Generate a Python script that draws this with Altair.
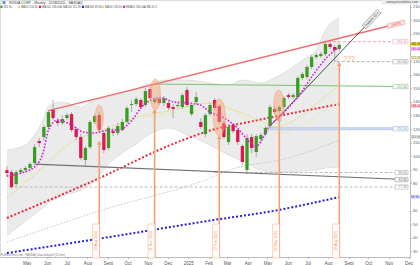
import altair as alt
import numpy as np
import pandas as pd

START = pd.Timestamp("2024-04-01")
DAY0, DAY1 = -2.9, 603.6
P0, P1 = 25.8, 215.0

# ---------------- weekly candles (USD) ----------------
opens = [89.8, 88.3, 79.5, 88.3, 89.8, 91.3, 95.0, 111.2, 114.1, 121.5,
         134.0, 125.9, 124.4, 128.1, 131.0, 120.0, 114.1, 97.2, 106.7, 125.2,
         130.3, 117.1, 106.0, 118.5, 117.1, 119.3, 125.2, 137.7, 138.4, 141.4,
         137.7, 149.5, 139.9, 142.1, 139.2, 139.2, 136.2, 136.9, 136.2, 148.7,
         131.0, 139.9, 125.2, 116.3, 131.0, 141.4, 136.9, 124.4, 110.4, 123.0,
         119.3, 107.5, 89.8, 114.1, 103.1, 112.6, 116.3, 122.2, 134.7, 133.3,
         136.2, 145.0, 143.6, 143.6, 157.6, 158.3, 165.7, 173.0, 173.8, 175.2,
         182.6, 180.4, 178.9]
closes = [87.6, 77.3, 88.3, 89.8, 91.3, 94.2, 106.7, 109.7, 121.5, 132.5,
          128.1, 124.4, 127.4, 130.3, 119.3, 114.1, 98.6, 106.0, 125.2, 129.6,
          119.3, 104.5, 120.7, 117.1, 122.2, 125.2, 135.5, 138.4, 142.1, 136.2,
          148.0, 142.8, 142.1, 139.2, 142.8, 135.5, 134.7, 137.7, 145.0, 137.7,
          137.7, 143.6, 121.5, 130.3, 137.7, 135.5, 125.2, 114.1, 121.5, 118.5,
          110.4, 95.7, 113.4, 106.0, 114.8, 115.6, 120.7, 136.2, 132.5, 136.2,
          142.8, 143.6, 145.0, 157.6, 160.5, 165.7, 173.0, 174.5, 175.2, 182.6,
          180.4, 178.2, 181.9]
highs = [92.8, 89.8, 89.8, 91.3, 92.8, 95.7, 108.9, 113.4, 123.0, 134.0,
         141.4, 128.1, 130.3, 131.8, 132.5, 121.5, 116.3, 107.5, 126.6, 131.0,
         132.5, 118.5, 122.2, 120.7, 124.4, 127.4, 136.9, 141.4, 143.6, 142.8,
         150.2, 150.9, 143.6, 143.6, 144.3, 140.6, 138.4, 139.2, 146.5, 150.9,
         139.2, 147.3, 128.1, 131.8, 139.2, 142.8, 138.4, 125.9, 123.7, 124.4,
         120.7, 108.9, 116.3, 116.3, 116.3, 117.1, 122.2, 137.7, 136.9, 137.7,
         144.3, 146.5, 146.5, 159.0, 162.0, 167.1, 174.5, 176.0, 176.7, 184.8,
         184.1, 181.9, 183.3]
lows = [84.7, 75.8, 78.0, 86.9, 88.3, 89.8, 93.5, 106.7, 111.2, 120.0,
        126.6, 122.2, 123.0, 126.6, 117.8, 111.9, 97.2, 92.0, 105.3, 123.7,
        117.8, 102.3, 104.5, 114.8, 115.6, 118.5, 123.7, 132.5, 136.9, 134.7,
        136.2, 141.4, 138.4, 137.7, 136.9, 134.0, 128.1, 135.5, 134.7, 136.2,
        129.6, 138.4, 120.0, 114.1, 129.6, 134.0, 123.7, 112.6, 108.2, 117.1,
        108.2, 93.5, 86.9, 102.3, 99.4, 110.4, 114.8, 120.7, 131.0, 131.8,
        134.7, 142.1, 142.1, 142.1, 156.1, 156.8, 164.2, 171.6, 172.3, 173.8,
        178.9, 169.3, 177.4]

# ---------------- indicators (week index, value) ----------------
ema_w = [0, 3, 6, 8, 9, 11, 14, 16.5, 18.6, 22.2, 24.3, 27.1, 29.2, 31.3, 33.4, 36.2,
         39.1, 41.9, 44, 46.7, 49.7, 51.8, 53.9, 55.2, 56.7, 58.8, 60.9, 63, 66.6, 69.4, 71.9]
ema_v = [85.4, 87.6, 92.0, 104.5, 119.3, 126.6, 123.0, 117.8, 117.1, 119.3, 119.3, 126.6,
         136.2, 141.4, 142.8, 139.9, 139.2, 137.7, 132.5, 128.8, 121.5, 113.4, 106.7, 111.9,
         121.5, 128.1, 135.5, 143.6, 161.2, 173.0, 180.4]
ya_w = [0, 5.9, 13.75, 20.7, 27.7, 36.2, 44, 50.3, 54.6, 58.1, 63, 67.2, 71.5]
ya_v = [69.2, 86.1, 109.7, 119.3, 128.1, 134.0, 139.2, 132.5, 126.6, 121.5, 128.1, 139.2, 150.9]
yb_w = [29.2, 36.2, 44, 46.7, 52.4, 58.8, 63, 67.2, 71.5]
yb_v = [128.1, 131.8, 135.5, 136.2, 126.6, 117.1, 120.7, 130.3, 139.2]
red_w = [0, 18.6, 38.1, 44, 52.4, 72.1]
red_v = [54.5, 81.7, 111.9, 118.9, 125.2, 138.4]
blue_w = [0, 20.7, 44, 58.8, 71.9]
blue_v = [28.7, 39.7, 52.6, 60.4, 69.9]
gray_w = [0, 20.7, 44, 48.2, 60.9, 72.1]
gray_v = [36.8, 60.4, 83.9, 89.8, 98.6, 111.9]
bb_w = [0, 4, 6, 8, 9, 12, 16, 19, 22, 25, 28, 31, 35, 39, 44, 48, 51, 55, 58, 61, 64, 67, 69, 72]
bb_up = [104.5, 108.2, 115.6, 128.1, 136.9, 139.9, 136.2, 141.4, 143.6, 146.5, 149.5, 153.9,
         156.1, 156.1, 153.9, 152.4, 156.1, 153.9, 157.6, 163.5, 170.8, 178.2, 192.9, 201.7]
bb_lo = [41.2, 52.3, 57.4, 62.6, 65.5, 70.7, 75.1, 81.7, 94.2, 102.3, 109.0, 116.3,
         120.7, 115.6, 108.2, 100.9, 96.4, 89.8, 88.3, 88.3, 89.1, 89.8, 91.3, 92.0]

# ---------------- drawn objects ----------------
res_dates, res_vals = ["2024-06-03", "2025-11-25"], [133.6, 198.8]
sup_dates, sup_vals = ["2024-05-14", "2025-11-25"], [94.2, 82.8]
up_dates, up_vals = ["2025-05-05", "2025-10-17"], [122.2, 206.2]
green_dates, green_vals = ["2024-11-10", "2025-11-25"], [153.1, 151.3]
pink_lvl, pink_from = 184.3, "2025-07-24"
g1_lvl, g1_from = 169.6, "2025-08-14"
g2_lvl, g2_from = 88.0, "2025-02-10"
g3_lvl, g3_from = 77.3, "2024-04-05"
blue_top, blue_bot, blue_from = 121.1, 119.3, "2025-04-28"
END_DATE = "2025-11-25"

vl_dates = ["2024-08-19", "2024-11-11", "2025-02-17", "2025-05-19", "2025-08-18"]
vl_tips = [110.7, 134.0, 114.8, 128.1, 168.6]
vl_text = ["19 Aug 2024", "11 Nov 2024", "17 Feb 2025", "19 May 2025", "18 Aug 2025"]
el_dates = ["2024-08-19", "2024-11-12", "2025-02-17", "2025-05-18"]
el_vals = [128.5, 145.4, 128.5, 137.7]
el_h = [25, 31, 37, 30]
q_date, q_val, q_text = "2025-08-24", 171.6, "???"

months = pd.date_range("2024-05-01", "2025-12-01", freq="MS")
mnames = ["Jan", "Feb", "Mar", "Apr", "May", "Jun", "Jul", "Aug", "Sept", "Oct", "Nov", "Dec"]
price_ticks = [30, 40, 50, 60, 80, 90, 100, 110, 120, 130, 140, 150, 160, 170, 190, 200, 210]


def dd(s):
    return (pd.Timestamp(s) - START).days


mvals = [int((m - START).days) for m in months]
mlabs = [str(m.year) if m.month == 1 else mnames[m.month - 1] for m in months]

xaxis = alt.Axis(title=None, values=mvals,
                 labelExpr=f"{mlabs}[indexof({mvals}, datum.value)]",
                 labelFontSize=4.5, labelColor="#555", tickSize=1.5, tickColor="#bbb",
                 domainColor="#bbb", grid=False, labelPadding=2, labelOverlap=False,
                 labelFlush=False, labelFont="Liberation Sans")
yaxis = alt.Axis(title=None, orient="right", values=price_ticks,
                 labelFontSize=4, labelColor="#555", tickSize=1.5, tickColor="#bbb",
                 domainColor="#bbb", grid=False, labelPadding=1, labelOverlap=False,
                 labelFont="Liberation Sans")


def X(f="d"):
    return alt.X(f"{f}:Q", scale=alt.Scale(domain=[DAY0, DAY1], nice=False, zero=False), axis=xaxis)


def Y(f="p"):
    return alt.Y(f"{f}:Q", scale=alt.Scale(domain=[P0, P1], nice=False, zero=False), axis=yaxis)


def series(w, v):
    return pd.DataFrame({"d": [x * 7 for x in w], "p": v})


def seg(dates, vals):
    return pd.DataFrame({"d": [dd(s) for s in dates], "p": vals})


GREEN, RED, ORANGE = "#3a9d23", "#e0164f", "#f5a06e"

cdf = pd.DataFrame({"d": [i * 7 for i in range(len(opens))], "O": opens, "C": closes,
                    "H": highs, "L": lows})
cdf["col"] = np.where(cdf["C"] >= cdf["O"], GREEN, RED)

layers = []
# Bollinger band
bdf = pd.DataFrame({"d": [w * 7 for w in bb_w], "up": bb_up, "lo": bb_lo})
layers.append(alt.Chart(bdf).mark_area(color="#e4e4e4", opacity=0.75, interpolate="monotone")
              .encode(x=X(), y=Y("lo"), y2=alt.Y2("up")))
for f in ["up", "lo"]:
    layers.append(alt.Chart(bdf).mark_line(color="#d2d2d2", strokeWidth=0.6, interpolate="monotone")
                  .encode(x=X(), y=Y(f)))

# blue band
bl = pd.DataFrame({"d": [dd(blue_from)], "d2": [dd(END_DATE)], "p": [blue_top], "p2": [blue_bot]})
layers.append(alt.Chart(bl).mark_rect(color="#cbd9f2", stroke="#9fb7e6", strokeWidth=0.4)
              .encode(x=X(), x2=alt.X2("d2"), y=Y(), y2=alt.Y2("p2")))

# horizontal dashed levels
for lvl, frm, col in [(pink_lvl, pink_from, "#f08a9e"), (g1_lvl, g1_from, "#9a9a9a"),
                      (g2_lvl, g2_from, "#a8a8a8"), (g3_lvl, g3_from, "#a8a8a8")]:
    layers.append(alt.Chart(seg([frm, END_DATE], [lvl, lvl]))
                  .mark_line(color=col, strokeWidth=0.8, strokeDash=[3, 2])
                  .encode(x=X(), y=Y()))

# green horizontal
layers.append(alt.Chart(seg(green_dates, green_vals)).mark_line(color="#7cc47a", strokeWidth=1)
              .encode(x=X(), y=Y()))

# moving averages
layers.append(alt.Chart(series(gray_w, gray_v))
              .mark_line(color="#c4c4c4", strokeWidth=1, strokeDash=[1.5, 1.5], interpolate="monotone")
              .encode(x=X(), y=Y()))
layers.append(alt.Chart(series(blue_w, blue_v))
              .mark_line(color="#2323dc", strokeWidth=2, strokeDash=[2, 2], interpolate="monotone")
              .encode(x=X(), y=Y()))
layers.append(alt.Chart(series(red_w, red_v))
              .mark_line(color="#e8283c", strokeWidth=2, strokeDash=[2, 2], interpolate="monotone")
              .encode(x=X(), y=Y()))
layers.append(alt.Chart(series(ya_w, ya_v))
              .mark_line(color="#e3d65a", strokeWidth=1, strokeDash=[1.5, 1.5], interpolate="monotone")
              .encode(x=X(), y=Y()))
layers.append(alt.Chart(series(yb_w, yb_v))
              .mark_line(color="#eee6a0", strokeWidth=1, strokeDash=[1.5, 1.5], interpolate="monotone")
              .encode(x=X(), y=Y()))

# trendlines
layers.append(alt.Chart(seg(res_dates, res_vals)).mark_line(color="#f06a6a", strokeWidth=1.3)
              .encode(x=X(), y=Y()))
layers.append(alt.Chart(seg(sup_dates, sup_vals)).mark_line(color="#707070", strokeWidth=1.1)
              .encode(x=X(), y=Y()))
layers.append(alt.Chart(seg(up_dates, up_vals)).mark_line(color="#3a3a3a", strokeWidth=0.9)
              .encode(x=X(), y=Y()))

# candles
layers.append(alt.Chart(cdf).mark_rule(color="#8c8c8c", strokeWidth=0.7)
              .encode(x=X(), y=Y("L"), y2=alt.Y2("H")))
layers.append(alt.Chart(cdf).mark_bar(size=3.3)
              .encode(x=X(), y=Y("O"), y2=alt.Y2("C"), color=alt.Color("col:N", scale=None)))

# EMA (magenta)
layers.append(alt.Chart(series(ema_w, ema_v))
              .mark_line(color="#d020d8", strokeWidth=1.6, strokeDash=[1.6, 1.6], interpolate="monotone")
              .encode(x=X(), y=Y()))

# ellipses
ang = np.linspace(0, 2 * np.pi, 33)[:-1]
ELL = "M" + " L".join(f"{0.33 * np.cos(a):.3f},{np.sin(a):.3f}" for a in ang) + " Z"
edf = pd.DataFrame({"d": [dd(s) for s in el_dates], "p": el_vals, "s": [h * h for h in el_h]})
layers.append(alt.Chart(edf).mark_point(shape=ELL, filled=True, fill=ORANGE, fillOpacity=0.45,
                                        stroke=ORANGE, strokeWidth=0.6, strokeOpacity=0.8)
              .encode(x=X(), y=Y(), size=alt.Size("s:Q", scale=None)))

# vertical arrows
vdf = pd.DataFrame({"d": [dd(s) for s in vl_dates], "p": vl_tips, "t": vl_text})
layers.append(alt.Chart(vdf).mark_rule(color=ORANGE, strokeWidth=1.6)
              .encode(x=X(), y=Y(), y2=alt.value(257)))
layers.append(alt.Chart(vdf).mark_point(shape="triangle-up", filled=True, color=ORANGE, opacity=1,
                                        size=22, yOffset=1)
              .encode(x=X(), y=Y()))
BOX = "M-0.2,-1 L0.2,-1 L0.2,1 L-0.2,1 Z"
layers.append(alt.Chart(vdf).mark_point(shape=BOX, filled=True, fill="white", stroke=ORANGE,
                                        strokeWidth=0.5, size=1156, xOffset=-3.2, opacity=1)
              .encode(x=X(), y=alt.value(241)))
layers.append(alt.Chart(vdf).mark_text(angle=270, fontSize=3.6, color="#f08a50", xOffset=-3.2,
                                       font="Liberation Sans")
              .encode(x=X(), y=alt.value(241), text="t:N"))

# ??? annotation
layers.append(alt.Chart(pd.DataFrame({"d": [dd(q_date)], "p": [q_val], "t": [q_text]}))
              .mark_text(align="left", fontSize=7, color="#f4a070", font="Liberation Sans")
              .encode(x=X(), y=Y(), text="t:N"))

# level labels at right edge (inside plot)
lab_vals = [pink_lvl, g1_lvl, green_vals[1], (blue_top + blue_bot) / 2, g2_lvl, sup_vals[1], g3_lvl]
lab_cols = ["#f08a9e", "#888888", "#5aa85a", "#6f8fd0", "#888888", "#666666", "#888888"]
ldf = pd.DataFrame({"p": lab_vals, "c": lab_cols})
ldf["t"] = [f"{v:.2f}" for v in lab_vals]
ldf["top"] = ldf["p"] + 1.6
ldf["bot"] = ldf["p"] - 1.6
for _, r in ldf.iterrows():
    w = len(r["t"]) * 2.0 + 3
    one = pd.DataFrame([r])
    layers.append(alt.Chart(one).mark_rect(fill="white", stroke=r["c"], strokeWidth=0.4)
                  .encode(x=alt.value(408 - w), x2=alt.value(408), y=Y("top"), y2=alt.Y2("bot")))
    layers.append(alt.Chart(one).mark_text(align="right", fontSize=3.4, color=r["c"],
                                           font="Liberation Sans")
                  .encode(x=alt.value(407), y=Y(), text="t:N"))

# rotated labels on trendlines
RECT = "M-1,-0.24 L1,-0.24 L1,0.24 L-1,0.24 Z"
rl = pd.DataFrame({"d": [dd("2025-11-12")], "p": [197.2], "t": ["198.80"]})
layers.append(alt.Chart(rl).mark_point(shape=RECT, filled=True, fill="#fde3e3", stroke="#f06a6a",
                                       strokeWidth=0.4, size=324, angle=346, opacity=1)
              .encode(x=X(), y=Y()))
layers.append(alt.Chart(rl).mark_text(angle=346, fontSize=3.3, color="#e04848", font="Liberation Sans")
              .encode(x=X(), y=Y(), text="t:N"))
bl2 = pd.DataFrame({"d": [dd("2025-10-06")], "p": [200.9], "t": ["Support 12.4"]})
layers.append(alt.Chart(bl2).mark_point(shape=RECT, filled=True, fill="#eeeeee", stroke="#555",
                                        strokeWidth=0.4, size=484, angle=314, opacity=1)
              .encode(x=X(), y=Y()))
layers.append(alt.Chart(bl2).mark_text(angle=314, fontSize=3.3, color="#333", font="Liberation Sans")
              .encode(x=X(), y=Y(), text="t:N"))

# right-axis value badges
badge_vals = [closes[-1], ema_v[-1], ya_v[-1] + 21.4, red_v[-1], gray_v[-1], blue_v[-1]]
badge_shift = [0.6, -1.6, 0, -1.6, 2.1, 0]
badge_fill = ["#f5d800", "#f6c8f6", "#f1eeb8", "#f9d0d6", "#e6e6e6", "#dde0ff"]
badge_txt = ["#222", "#b020b0", "#777", "#e0163c", "#666", "#2222dd"]
bdg = pd.DataFrame({"v": badge_vals, "f": badge_fill, "c": badge_txt})
bdg["p"] = bdg["v"] + badge_shift
bdg["t"] = [f"{v:.2f}" for v in badge_vals]
bdg["top"] = bdg["p"] + 1.25
bdg["bot"] = bdg["p"] - 1.25
layers.append(alt.Chart(bdg).mark_rect()
              .encode(x=alt.value(410.5), x2=alt.value(420), y=Y("top"), y2=alt.Y2("bot"),
                      color=alt.Color("f:N", scale=None)))
layers.append(alt.Chart(bdg).mark_text(align="left", fontSize=3.2, font="Liberation Sans")
              .encode(x=alt.value(411), y=Y(), text="t:N", color=alt.Color("c:N", scale=None)))

# header
head = pd.DataFrame({"t": ["NVIDIA CORP. - Weekly - 22/08/2025 - NASDAQ"]})
layers.append(alt.Chart(head).mark_text(align="left", baseline="middle", fontSize=3.4, color="#333",
                                        font="Liberation Sans")
              .encode(x=alt.value(9), y=alt.value(2.6), text="t:N"))
layers.append(alt.Chart(head).mark_point(shape="square", filled=True, color="#6a8fd8", size=9, opacity=1)
              .encode(x=alt.value(4), y=alt.value(2.6)))
leg_names = ["181.90", "MA50 150.90", "MA100 138.40", "MA150 111.90", "MA200 69.90",
             "MA20 139.20", "EMA10 180.40", "BB 20 2"]
leg_cols = [GREEN, "#e3d65a", "#e0163c", "#b8b8b8", "#2323dc", "#e3d65a", "#d020d8", "#aaaaaa"]
leg_px = [1.5, 19, 40, 61, 83, 103, 124, 145]
lg = pd.DataFrame({"t": leg_names, "c": leg_cols, "px": leg_px})
lg["tx"] = lg["px"] + 2
layers.append(alt.Chart(lg).mark_point(shape="square", filled=True, size=5, opacity=1)
              .encode(x=alt.X("px:Q", scale=None), y=alt.value(6.8), color=alt.Color("c:N", scale=None)))
layers.append(alt.Chart(lg).mark_text(align="left", baseline="middle", fontSize=2.8, color="#555",
                                      font="Liberation Sans")
              .encode(x=alt.X("tx:Q", scale=None), y=alt.value(6.8), text="t:N"))
wm = pd.DataFrame({"t": ["www.prorealtime.com"]})
layers.append(alt.Chart(wm).mark_rect(color="#ececec")
              .encode(x=alt.value(382), x2=alt.value(420), y=alt.value(0), y2=alt.value(4.5)))
layers.append(alt.Chart(wm).mark_text(align="right", baseline="middle", fontSize=3.3, color="#555",
                                      font="Liberation Sans")
              .encode(x=alt.value(418), y=alt.value(2.3), text="t:N"))
foot = pd.DataFrame({"t": ["ProRealTime.com - NASDAQ data delayed (15 min)"]})
layers.append(alt.Chart(foot).mark_text(align="left", baseline="middle", fontSize=2.8, color="#777",
                                        font="Liberation Sans")
              .encode(x=alt.value(0.5), y=alt.value(255), text="t:N"))

chart = (alt.layer(*layers)
         .properties(width=410, height=257, autosize=alt.AutoSizeParams(type="none"),
                     padding={"left": 0, "top": 0, "right": 10, "bottom": 8})
         .configure_view(strokeWidth=0)
         .configure(background="white"))

chart.save("out.html", embed_options={"renderer": "svg", "actions": False})
